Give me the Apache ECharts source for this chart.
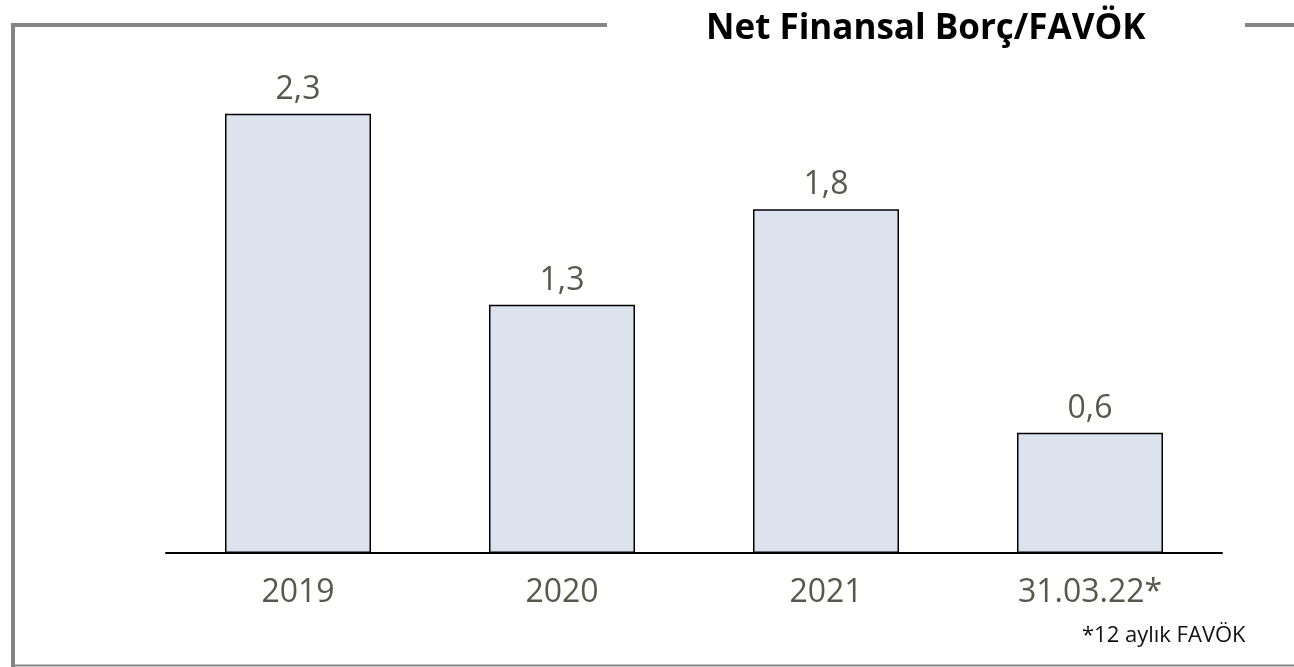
<!DOCTYPE html>
<html>
<head>
<meta charset="utf-8">
<script src="https://cdn.jsdelivr.net/npm/echarts@6/dist/echarts.min.js"></script>
<style>html,body{margin:0;padding:0;background:#fff}#c{width:1294px;height:667px}</style>
</head>
<body>
<div id="c"></div>
<script>
const categories = ['2019', '2020', '2021', '31.03.22*'];
const values = [2.3, 1.3, 1.8, 0.63];
const titleText = 'Net Finansal Borç/FAVÖK';
const footnote = '*12 aylık FAVÖK';

const chart = echarts.init(document.getElementById('c'), null, {renderer: 'canvas'});
const frameColor = '#858585';
chart.setOption({
  animation: false,
  backgroundColor: '#ffffff',
  title: {
    text: titleText,
    left: 701, top: 7,
    textStyle: {fontFamily: 'Open Sans', fontWeight: 'bold', fontSize: 35, color: '#000'}
  },
  grid: {left: 166, right: 72, top: 75.5, bottom: 114},
  xAxis: {
    type: 'category', data: categories,
    axisLine: {lineStyle: {color: '#000', width: 2}},
    axisTick: {show: false},
    axisLabel: {fontFamily: 'Open Sans', fontSize: 32, color: '#575750', margin: 24}
  },
  yAxis: {type: 'value', min: 0, max: 2.5, show: false, splitLine: {show: false}},
  series: [{
    type: 'bar', data: values, barWidth: '55.3%',
    itemStyle: {color: '#dde3ee', borderColor: '#000', borderWidth: 1.5},
    label: {
      show: true, position: 'top', distance: 8,
      fontFamily: 'Open Sans', fontSize: 32, color: '#575750',
      formatter: p => p.value.toFixed(1).replace('.', ',')
    }
  }],
  graphic: [
    {type: 'line', shape: {x1: 13, y1: 23, x2: 13, y2: 667}, style: {stroke: frameColor, lineWidth: 4}},
    {type: 'line', shape: {x1: 11, y1: 25, x2: 607, y2: 25}, style: {stroke: frameColor, lineWidth: 4}},
    {type: 'line', shape: {x1: 1245, y1: 25, x2: 1294, y2: 25}, style: {stroke: frameColor, lineWidth: 4}},
    {type: 'line', shape: {x1: 11, y1: 665.5, x2: 1294, y2: 665.5}, style: {stroke: frameColor, lineWidth: 2}},
    {type: 'text', left: 1082, top: 625, style: {text: footnote, fontFamily: 'Open Sans', fontSize: 22, fill: '#111'}}
  ]
});
</script>
</body>
</html>
